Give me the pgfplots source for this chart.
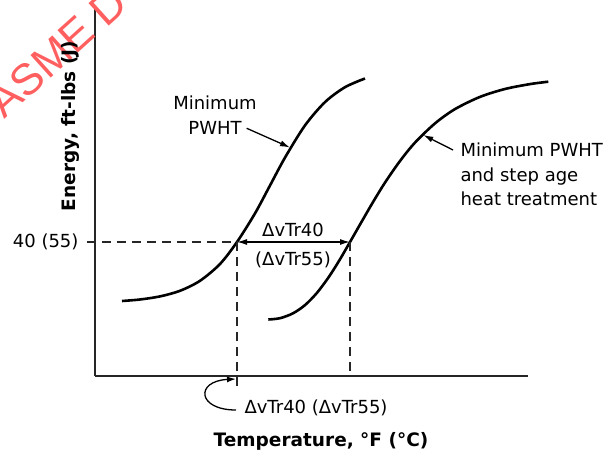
\documentclass[border=0pt]{standalone}
\usepackage{pgfplots}
\pgfplotsset{compat=1.18}
\usetikzlibrary{arrows.meta}
\usepackage{fontspec}
\setmainfont{DejaVu Sans}
\newfontfamily\wmfont{Liberation Sans}
\definecolor{wm}{RGB}{255,95,95}

\begin{document}
\begin{tikzpicture}[font=\fontsize{18bp}{24.5bp}\selectfont]
\begin{axis}[
  scale only axis, width=433bp, height=368bp,
  xmin=0, xmax=433, ymin=0, ymax=368,
  axis x line=bottom, axis y line=left,
  axis line style={-, line width=1.5bp, black!85},
  xtick=\empty, ytick={134}, yticklabels={{40 (55)}},
  major tick length=0pt,
  yticklabel style={xshift=-13bp},
  xlabel={\fontsize{18.5bp}{22bp}\bfseries Temperature, °F (°C)},
  ylabel={\fontsize{18.5bp}{22bp}\bfseries Energy, ft-lbs (J)},
  xlabel style={at={(axis description cs:0.522,-0.179)}, anchor=center},
  ylabel style={at={(axis description cs:-0.0577,0.679)}, anchor=center},
  clip=false,
]
% watermark
\node[wm, rotate=42, anchor=base west, font=\wmfont\fontsize{44bp}{44bp}\selectfont]
  at (axis cs:-93,254) {ASME D};

% Minimum PWHT
\addplot[smooth, line width=2.6bp, black] coordinates {
  (27,75.0) (45,76.5) (65,79.6) (85,85.2) (105,95.2) (125,112.0)
  (142,134) (160,162.6) (175,190.5) (190,218.4) (210,250.6)
  (230,273.9) (250,288.8) (270,297.5)
};
% Minimum PWHT and step age heat treatment
\addplot[smooth, line width=2.6bp, black] coordinates {
  (173.3,56.5) (185,57.8) (198,62.7) (210,70.9) (222,83.2) (234,99.3)
  (245,116.7) (255,134) (266,153.2) (278,173.9) (290,193.4) (305,215.0)
  (320,233.4) (340,252.6) (360,266.9) (385,279.1) (410,287.0)
  (435,291.9) (453.3,294.3)
};

% dashed guide lines
\addplot[line width=1.7bp, black!85, dash pattern=on 9bp off 6bp] coordinates {
  (-8,134) (142,134) (142,-12)
};
\addplot[line width=1.7bp, black!85, dash pattern=on 9bp off 6bp] coordinates {
  (255,134) (255,0)
};

% shift arrow
\draw[{Latex[length=10bp,width=6bp]}-{Latex[length=10bp,width=6bp]}, line width=1.3bp]
  (axis cs:142,134) -- (axis cs:255,134);
\node at (axis cs:198,146) {ΔvTr40};
\node at (axis cs:198,116) {(ΔvTr55)};

% labels with pointers
\node[align=center] at (axis cs:120,261) {Minimum\\PWHT};
\draw[-{Latex[length=10bp,width=6bp]}, line width=1.3bp]
  (axis cs:151.7,247.7) -- (axis cs:195,228.5);
\node[align=left, anchor=west] at (axis cs:362,201.5)
  {Minimum PWHT\\and step age\\heat treatment};
\draw[-{Latex[length=10bp,width=6bp]}, line width=1.3bp]
  (axis cs:358,226) -- (axis cs:328.3,241);

% bottom pointer
\draw[-{Latex[length=9bp,width=6bp]}, line width=1.3bp]
  (axis cs:141,-34) .. controls (axis cs:102,-34) and (axis cs:100,-5) .. (axis cs:141,-3);
\node[anchor=west] at (axis cs:146,-32) {ΔvTr40 (ΔvTr55)};
\end{axis}
\pgfresetboundingbox
\path (current axis.south west) ++(-95bp,-81bp) rectangle ++(612bp,457bp);
\end{tikzpicture}
\end{document}
